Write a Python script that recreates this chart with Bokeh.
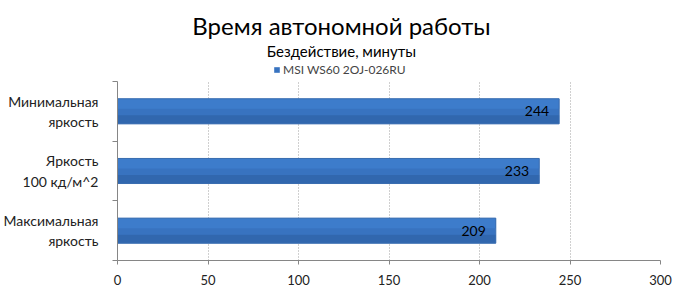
from bokeh.plotting import figure
from bokeh.models import (Legend, LegendItem, FixedTicker, Label, ColumnDataSource,
                          Range1d, BoxAnnotation)
from bokeh.embed import file_html
from bokeh.resources import INLINE

categories = ["Максимальная\nяркость", "Яркость\n100 кд/м^2", "Минимальная\nяркость"]
values = [209, 233, 244]
series_name = "MSI WS60 2OJ-026RU"
x_ticks = [0, 50, 100, 150, 200, 250, 300]
title_text = "Время автономной работы"
subtitle_text = "Бездействие, минуты"

FONT = "Lato"
ys = list(range(len(categories)))
BAR_H = 0.42
src = ColumnDataSource(dict(y=ys, v=values, lbl=[str(v) for v in values],
                            y_top=[y + BAR_H * 0.3 for y in ys],
                            y_bot=[y - BAR_H * 0.33 for y in ys]))

n = len(categories)
top_space = 1.357  # room above the bars for titles and legend (in band units)

p = figure(width=681, height=287, output_backend="svg", toolbar_location=None,
           x_range=Range1d(0, 300), y_range=Range1d(-0.5, n - 0.5 + top_space),
           min_border_left=116, min_border_right=21, min_border_bottom=5,
           min_border_top=0,
           border_fill_color="white", background_fill_color="white")
p.outline_line_color = None

p.xgrid.grid_line_color = "#a0a0a0"
p.xgrid.grid_line_dash = "1 2"
p.ygrid.grid_line_color = None
p.add_layout(BoxAnnotation(bottom=n - 0.5, fill_color="white", fill_alpha=1,
                           line_color=None, level="underlay"))

bars = p.hbar(y="y", right="v", left=0, height=BAR_H, source=src,
              fill_color="#3873c0", line_color=None)
# shading: lighter upper part, darker lower part
p.hbar(y="y_top", right="v", left=0, height=BAR_H * 0.4, source=src,
       fill_color="#3d7ccb", line_color=None)
p.hbar(y="y_bot", right="v", left=0, height=BAR_H * 0.34, source=src,
       fill_color="#3167ae", line_color=None)
p.hbar(y="y", right="v", left=0, height=BAR_H, source=src,
       fill_color=None, line_color="#3a6db0", line_width=1)

p.text(x="v", y="y", text="lbl", source=src, x_offset=-10, text_align="right",
       text_baseline="middle", text_font_size="14px", text_color="black",
       text_font={"value": FONT})

p.xaxis.ticker = FixedTicker(ticks=x_ticks)
p.xaxis.axis_line_color = "#868686"
p.xaxis.major_tick_line_color = "#868686"
p.xaxis.major_tick_out = 4
p.xaxis.major_tick_in = 0
p.xaxis.minor_tick_line_color = None
p.xaxis.major_label_text_font = FONT
p.xaxis.major_label_text_font_size = "13px"
p.xaxis.major_label_text_color = "#222222"
p.xaxis.major_label_standoff = 10

p.yaxis.ticker = FixedTicker(ticks=ys, minor_ticks=[y - 0.5 for y in ys] + [n - 0.5])
p.yaxis.bounds = (-0.5, n - 0.5)
p.yaxis.axis_line_color = "#868686"
p.yaxis.major_tick_line_color = None
p.yaxis.minor_tick_line_color = "#868686"
p.yaxis.minor_tick_out = 5
p.yaxis.minor_tick_in = 0
p.yaxis.major_label_overrides = {y: c for y, c in zip(ys, categories)}
p.yaxis.major_label_text_font = FONT
p.yaxis.major_label_text_font_size = "14px"
p.yaxis.major_label_text_color = "#222222"
p.yaxis.major_label_text_align = "center"
p.yaxis.major_label_standoff = 13

p.add_layout(Label(x=224, y=235, x_units="screen", y_units="screen", text=title_text,
                   text_align="center", text_baseline="middle",
                   text_font=FONT, text_font_size="24px", text_color="#000000"))
p.add_layout(Label(x=224, y=210, x_units="screen", y_units="screen", text=subtitle_text,
                   text_align="center", text_baseline="middle",
                   text_font=FONT, text_font_size="15px", text_color="#000000"))

legend = Legend(items=[LegendItem(label=series_name, renderers=[bars])],
                orientation="horizontal", location=(156, 183),
                label_text_font=FONT, label_text_font_size="12px",
                glyph_width=7, glyph_height=7, label_standoff=3,
                border_line_color=None, background_fill_alpha=0,
                padding=0, margin=0, spacing=0, label_height=12)
p.add_layout(legend, "center")

open("out.html", "w").write(file_html(p, INLINE))
